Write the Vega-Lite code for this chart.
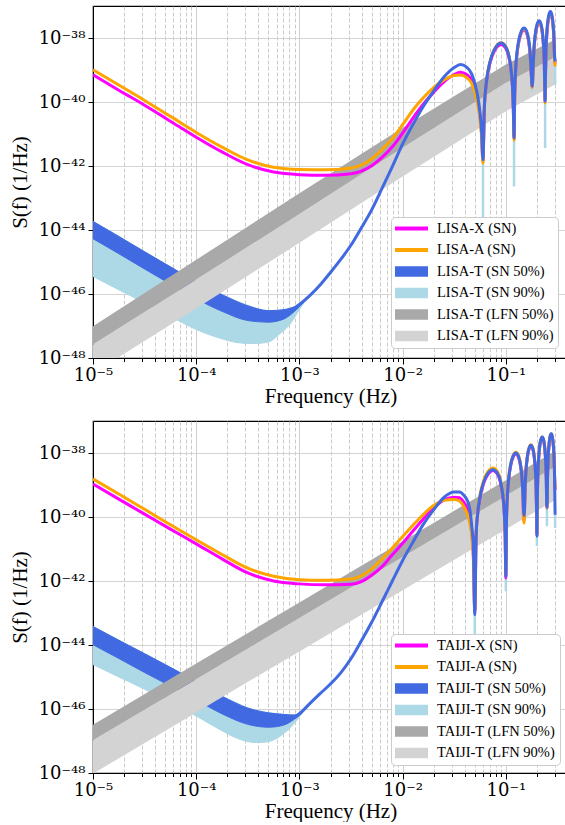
{
"$schema": "https://vega.github.io/schema/vega-lite/v6.json",
"background": "white",
"padding": {"left": 8, "top": 5, "right": 0, "bottom": 0},
"bounds": "flush",
"spacing": 63,
"resolve": {"scale": {"color": "independent", "x": "independent", "y": "independent"}, "legend": {"color": "independent"}},
"config": {
  "font": "Liberation Serif",
  "view": {"stroke": "#000000", "strokeWidth": 1.2},
  "axis": {"labelFont": "DejaVu Serif", "labelFontSize": 18, "labelColor": "#000000", "titleFont": "Liberation Serif", "titleFontSize": 21, "titleFontWeight": "normal", "titleColor": "#000000", "tickColor": "#000000", "domainColor": "#000000", "gridColor": "#d4d4d4", "gridWidth": 1, "labelOverlap": false, "labelFlush": false}
},
"datasets": {
"lisa_X": [{"f":1e-5,"S":7.08e-40},{"f":1.778e-5,"S":2.34e-40},{"f":3.162e-5,"S":7.94e-41},{"f":5.623e-5,"S":2.51e-41},{"f":1e-4,"S":7.94e-42},{"f":1.778e-4,"S":2.75e-42},{"f":3.162e-4,"S":1.10e-42},{"f":5.623e-4,"S":6.46e-43},{"f":1e-3,"S":5.37e-43},{"f":1.778e-3,"S":5.13e-43},{"f":3.162e-3,"S":5.75e-43},{"f":3.981e-3,"S":6.92e-43},{"f":5.012e-3,"S":1.02e-42},{"f":6.310e-3,"S":1.86e-42},{"f":7.943e-3,"S":3.98e-42},{"f":0.01,"S":1.07e-41},{"f":0.01259,"S":3.16e-41},{"f":0.01585,"S":8.51e-41},{"f":0.01995,"S":2.00e-40},{"f":0.02512,"S":4.27e-40},{"f":0.03162,"S":7.24e-40},{"f":0.03631,"S":8.51e-40},{"f":0.04169,"S":7.24e-40},{"f":0.04677,"S":4.68e-40},{"f":0.05248,"S":1.35e-40},{"f":0.05623,"S":3.55e-41},{"f":0.05821,"S":1.0e-41},{"f":0.06,"S":1.41e-42},
{"f":0.0618,"S":5.62e-41},{"f":0.0642,"S":3.02e-40},{"f":0.0678,"S":1.0e-39},{"f":0.0732,"S":2.57e-39},{"f":0.081,"S":5.01e-39},{"f":0.09,"S":6.31e-39},{"f":0.099,"S":5.01e-39},{"f":0.1068,"S":2.57e-39},{"f":0.1122,"S":1.0e-39},{"f":0.1158,"S":3.02e-40},{"f":0.1182,"S":5.62e-41},{"f":0.12,"S":7.08e-42},
{"f":0.1218,"S":1.58e-40},{"f":0.1242,"S":8.51e-40},{"f":0.1278,"S":2.82e-39},{"f":0.1332,"S":7.24e-39},{"f":0.141,"S":1.41e-38},{"f":0.15,"S":1.78e-38},{"f":0.159,"S":1.41e-38},{"f":0.1668,"S":7.24e-39},{"f":0.1722,"S":2.82e-39},{"f":0.1758,"S":8.51e-40},{"f":0.18,"S":2.95e-40},
{"f":0.1842,"S":1.45e-39},{"f":0.1878,"S":4.79e-39},{"f":0.1932,"S":1.23e-38},{"f":0.201,"S":2.40e-38},{"f":0.21,"S":3.02e-38},{"f":0.219,"S":2.40e-38},{"f":0.2268,"S":1.23e-38},{"f":0.2322,"S":4.79e-39},{"f":0.2358,"S":1.45e-39},{"f":0.2382,"S":2.69e-40},{"f":0.24,"S":1.0e-40},
{"f":0.2418,"S":5.01e-40},{"f":0.2442,"S":2.69e-39},{"f":0.2478,"S":8.91e-39},{"f":0.2532,"S":2.29e-38},{"f":0.261,"S":4.47e-38},{"f":0.27,"S":5.62e-38},{"f":0.279,"S":4.47e-38},{"f":0.2868,"S":2.29e-38},{"f":0.2922,"S":8.91e-39},{"f":0.2958,"S":2.69e-39},{"f":0.30,"S":1.58e-39}],
"lisa_A": [{"f":1e-5,"S":1.02e-39},{"f":1.778e-5,"S":3.39e-40},{"f":3.162e-5,"S":1.12e-40},{"f":5.623e-5,"S":3.55e-41},{"f":1e-4,"S":1.12e-41},{"f":1.778e-4,"S":3.89e-42},{"f":3.162e-4,"S":1.55e-42},{"f":5.623e-4,"S":9.12e-43},{"f":1e-3,"S":7.76e-43},{"f":1.778e-3,"S":7.59e-43},{"f":3.162e-3,"S":8.71e-43},{"f":3.981e-3,"S":1.07e-42},{"f":5.012e-3,"S":1.66e-42},{"f":6.310e-3,"S":3.24e-42},{"f":7.943e-3,"S":7.24e-42},{"f":0.01,"S":1.95e-41},{"f":0.01259,"S":5.62e-41},{"f":0.01585,"S":1.35e-40},{"f":0.01995,"S":2.82e-40},{"f":0.02512,"S":4.90e-40},{"f":0.03162,"S":6.76e-40},{"f":0.03631,"S":6.92e-40},{"f":0.04169,"S":5.75e-40},{"f":0.04677,"S":3.72e-40},{"f":0.05248,"S":1.10e-40},{"f":0.05623,"S":2.82e-41},{"f":0.05821,"S":7.94e-42},{"f":0.06,"S":1.23e-42},
{"f":0.0618,"S":6.31e-41},{"f":0.0642,"S":3.39e-40},{"f":0.0678,"S":1.12e-39},{"f":0.0732,"S":2.88e-39},{"f":0.081,"S":5.62e-39},{"f":0.09,"S":7.08e-39},{"f":0.099,"S":5.62e-39},{"f":0.1068,"S":2.88e-39},{"f":0.1122,"S":1.12e-39},{"f":0.1158,"S":3.39e-40},{"f":0.1182,"S":6.31e-41},{"f":0.12,"S":6.31e-42},
{"f":0.1218,"S":1.70e-40},{"f":0.1242,"S":9.12e-40},{"f":0.1278,"S":3.02e-39},{"f":0.1332,"S":7.76e-39},{"f":0.141,"S":1.51e-38},{"f":0.15,"S":1.91e-38},{"f":0.159,"S":1.51e-38},{"f":0.1668,"S":7.76e-39},{"f":0.1722,"S":3.02e-39},{"f":0.1758,"S":9.12e-40},{"f":0.18,"S":2.82e-40},
{"f":0.1842,"S":1.51e-39},{"f":0.1878,"S":5.01e-39},{"f":0.1932,"S":1.29e-38},{"f":0.201,"S":2.51e-38},{"f":0.21,"S":3.16e-38},{"f":0.219,"S":2.51e-38},{"f":0.2268,"S":1.29e-38},{"f":0.2322,"S":5.01e-39},{"f":0.2358,"S":1.51e-39},{"f":0.2382,"S":2.82e-40},{"f":0.24,"S":9.33e-41},
{"f":0.2418,"S":5.37e-40},{"f":0.2442,"S":2.88e-39},{"f":0.2478,"S":9.55e-39},{"f":0.2532,"S":2.45e-38},{"f":0.261,"S":4.79e-38},{"f":0.27,"S":6.03e-38},{"f":0.279,"S":4.79e-38},{"f":0.2868,"S":2.45e-38},{"f":0.2922,"S":9.55e-39},{"f":0.2958,"S":2.88e-39},{"f":0.30,"S":1.29e-39}],
"lisa_T": [{"f":8.913e-4,"S":3.55e-47},{"f":1e-3,"S":4.68e-47},{"f":1.259e-3,"S":8.91e-47},{"f":1.585e-3,"S":1.91e-46},{"f":1.995e-3,"S":4.68e-46},{"f":2.512e-3,"S":1.20e-45},{"f":3.162e-3,"S":3.39e-45},{"f":3.981e-3,"S":1.17e-44},{"f":5.012e-3,"S":4.27e-44},{"f":6.310e-3,"S":2.00e-43},{"f":7.943e-3,"S":9.55e-43},{"f":0.01,"S":4.90e-42},{"f":0.01259,"S":2.00e-41},{"f":0.01585,"S":7.24e-41},{"f":0.01995,"S":2.19e-40},{"f":0.02512,"S":6.03e-40},{"f":0.03162,"S":1.20e-39},{"f":0.03631,"S":1.48e-39},{"f":0.04169,"S":1.23e-39},{"f":0.04677,"S":7.41e-40},{"f":0.05248,"S":2.00e-40},{"f":0.05623,"S":4.47e-41},{"f":0.05821,"S":1.26e-41},{"f":0.06,"S":1.58e-42},
{"f":0.0618,"S":6.17e-41},{"f":0.0642,"S":3.31e-40},{"f":0.0678,"S":1.10e-39},{"f":0.0732,"S":2.82e-39},{"f":0.081,"S":5.50e-39},{"f":0.09,"S":6.92e-39},{"f":0.099,"S":5.50e-39},{"f":0.1068,"S":2.82e-39},{"f":0.1122,"S":1.10e-39},{"f":0.1158,"S":3.31e-40},{"f":0.1182,"S":6.17e-41},{"f":0.12,"S":7.50e-42},
{"f":0.1218,"S":1.82e-40},{"f":0.1242,"S":9.77e-40},{"f":0.1278,"S":3.24e-39},{"f":0.1332,"S":8.32e-39},{"f":0.141,"S":1.62e-38},{"f":0.15,"S":2.04e-38},{"f":0.159,"S":1.62e-38},{"f":0.1668,"S":8.32e-39},{"f":0.1722,"S":3.24e-39},{"f":0.1758,"S":9.77e-40},{"f":0.18,"S":3.09e-40},
{"f":0.1842,"S":1.66e-39},{"f":0.1878,"S":5.50e-39},{"f":0.1932,"S":1.41e-38},{"f":0.201,"S":2.75e-38},{"f":0.21,"S":3.47e-38},{"f":0.219,"S":2.75e-38},{"f":0.2268,"S":1.41e-38},{"f":0.2322,"S":5.50e-39},{"f":0.2358,"S":1.66e-39},{"f":0.2382,"S":3.09e-40},{"f":0.24,"S":1.05e-40},
{"f":0.2418,"S":6.03e-40},{"f":0.2442,"S":3.24e-39},{"f":0.2478,"S":1.07e-38},{"f":0.2532,"S":2.75e-38},{"f":0.261,"S":5.37e-38},{"f":0.27,"S":6.76e-38},{"f":0.279,"S":5.37e-38},{"f":0.2868,"S":2.75e-38},{"f":0.2922,"S":1.07e-38},{"f":0.2958,"S":3.24e-39},{"f":0.30,"S":1.86e-39}],
"lisa_SN50": [{"f":1e-5,"lo":5.37e-45,"hi":1.86e-44},{"f":1.778e-5,"lo":1.82e-45,"hi":6.31e-45},{"f":3.162e-5,"lo":6.03e-46,"hi":2.09e-45},{"f":5.623e-5,"lo":2.04e-46,"hi":7.08e-46},{"f":1e-4,"lo":7.08e-47,"hi":2.40e-46},{"f":1.778e-4,"lo":2.88e-47,"hi":9.55e-47},{"f":3.162e-4,"lo":1.48e-47,"hi":4.27e-47},{"f":5.012e-4,"lo":1.32e-47,"hi":3.02e-47},{"f":7.079e-4,"lo":1.66e-47,"hi":3.24e-47},{"f":8.913e-4,"lo":2.82e-47,"hi":3.98e-47},{"f":1e-3,"lo":3.98e-47,"hi":4.68e-47},{"f":1.122e-3,"lo":6.03e-47,"hi":6.31e-47}],
"lisa_SN90": [{"f":1e-5,"lo":3.55e-46,"hi":1.86e-44},{"f":1.778e-5,"lo":1.35e-46,"hi":6.31e-45},{"f":3.162e-5,"lo":5.25e-47,"hi":2.09e-45},{"f":5.623e-5,"lo":2.00e-47,"hi":7.08e-46},{"f":1e-4,"lo":7.76e-48,"hi":2.40e-46},{"f":1.778e-4,"lo":3.98e-48,"hi":9.55e-47},{"f":2.512e-4,"lo":3.02e-48,"hi":5.89e-47},{"f":3.548e-4,"lo":2.82e-48,"hi":3.89e-47},{"f":5.012e-4,"lo":3.16e-48,"hi":3.02e-47},{"f":6.310e-4,"lo":5.37e-48,"hi":3.09e-47},{"f":7.943e-4,"lo":1.05e-47,"hi":3.55e-47},{"f":1e-3,"lo":3.24e-47,"hi":4.68e-47},{"f":1.122e-3,"lo":5.75e-47,"hi":6.31e-47}],
"lisa_LFN50": [{"f":1e-5,"lo":2.63e-48,"hi":9.77e-48},{"f":1e-4,"lo":2.82e-46,"hi":1.17e-45},{"f":1e-3,"lo":3.16e-44,"hi":1.41e-43},{"f":0.01,"lo":3.72e-42,"hi":1.58e-41},{"f":0.1,"lo":3.98e-40,"hi":1.48e-39},{"f":0.3,"lo":2.51e-39,"hi":8.91e-39}],
"lisa_LFN90": [{"f":1e-5,"lo":3.31e-49,"hi":2.63e-48},{"f":1e-4,"lo":3.55e-47,"hi":2.82e-46},{"f":1e-3,"lo":3.98e-45,"hi":3.16e-44},{"f":0.01,"lo":4.68e-43,"hi":3.72e-42},{"f":0.1,"lo":5.13e-41,"hi":3.98e-40},{"f":0.3,"lo":3.55e-40,"hi":2.51e-39}],
"lisa_spikes": [{"f":0.06,"lo":1.86e-44,"hi":1.58e-42},{"f":0.12,"lo":2.29e-43,"hi":7.50e-42},{"f":0.18,"lo":2.00e-40,"hi":3.09e-40},{"f":0.24,"lo":3.63e-42,"hi":1.05e-40},{"f":0.30,"lo":3.47e-40,"hi":1.86e-39}],
"taiji_X": [{"f":1e-5,"S":1.07e-39},{"f":1.778e-5,"S":3.63e-40},{"f":3.162e-5,"S":1.23e-40},{"f":5.623e-5,"S":4.17e-41},{"f":1e-4,"S":1.45e-41},{"f":1.778e-4,"S":4.90e-42},{"f":3.162e-4,"S":1.78e-42},{"f":5.623e-4,"S":1.0e-42},{"f":1e-3,"S":8.13e-43},{"f":1.778e-3,"S":7.59e-43},{"f":3.162e-3,"S":7.94e-43},{"f":3.981e-3,"S":9.55e-43},{"f":5.012e-3,"S":1.51e-42},{"f":6.310e-3,"S":2.82e-42},{"f":7.943e-3,"S":6.61e-42},{"f":0.01,"S":1.51e-41},{"f":0.01259,"S":3.63e-41},{"f":0.01585,"S":8.71e-41},{"f":0.01995,"S":1.91e-40},{"f":0.02512,"S":3.39e-40},{"f":0.03162,"S":4.17e-40},{"f":0.03548,"S":3.98e-40},{"f":0.03981,"S":2.63e-40},{"f":0.04365,"S":1.41e-40},{"f":0.04677,"S":3.16e-41},{"f":0.04842,"S":6.31e-42},{"f":0.05,"S":1.12e-43},
{"f":0.0515,"S":2.51e-41},{"f":0.0535,"S":1.35e-40},{"f":0.0565,"S":4.47e-40},{"f":0.061,"S":1.15e-39},{"f":0.0675,"S":2.24e-39},{"f":0.075,"S":2.82e-39},{"f":0.0825,"S":2.24e-39},{"f":0.089,"S":1.15e-39},{"f":0.0935,"S":4.47e-40},{"f":0.0965,"S":1.35e-40},{"f":0.0985,"S":2.51e-41},{"f":0.10,"S":1.26e-42},
{"f":0.1015,"S":8.32e-41},{"f":0.1035,"S":4.47e-40},{"f":0.1065,"S":1.48e-39},{"f":0.111,"S":3.80e-39},{"f":0.1175,"S":7.41e-39},{"f":0.125,"S":9.33e-39},{"f":0.1325,"S":7.41e-39},{"f":0.139,"S":3.80e-39},{"f":0.1435,"S":1.48e-39},{"f":0.1465,"S":4.47e-40},{"f":0.1485,"S":8.32e-41},{"f":0.15,"S":7.94e-41},
{"f":0.1515,"S":1.48e-40},{"f":0.1535,"S":7.94e-40},{"f":0.1565,"S":2.63e-39},{"f":0.161,"S":6.76e-39},{"f":0.1675,"S":1.32e-38},{"f":0.175,"S":1.66e-38},{"f":0.1825,"S":1.32e-38},{"f":0.189,"S":6.76e-39},{"f":0.1935,"S":2.63e-39},{"f":0.1965,"S":7.94e-40},{"f":0.1985,"S":1.48e-40},{"f":0.20,"S":2.63e-41},
{"f":0.2015,"S":2.69e-40},{"f":0.2035,"S":1.45e-39},{"f":0.2065,"S":4.79e-39},{"f":0.211,"S":1.23e-38},{"f":0.2175,"S":2.40e-38},{"f":0.225,"S":3.02e-38},{"f":0.2325,"S":2.40e-38},{"f":0.239,"S":1.23e-38},{"f":0.2435,"S":4.79e-39},{"f":0.2465,"S":1.45e-39},{"f":0.2485,"S":2.69e-40},{"f":0.25,"S":1.91e-40},
{"f":0.2515,"S":3.39e-40},{"f":0.2535,"S":1.82e-39},{"f":0.2565,"S":6.03e-39},{"f":0.261,"S":1.55e-38},{"f":0.2675,"S":3.02e-38},{"f":0.275,"S":3.80e-38},{"f":0.2825,"S":3.02e-38},{"f":0.289,"S":1.55e-38},{"f":0.2935,"S":6.03e-39},{"f":0.2965,"S":1.82e-39},{"f":0.30,"S":7.08e-40}],
"taiji_A": [{"f":1e-5,"S":1.55e-39},{"f":1.778e-5,"S":5.25e-40},{"f":3.162e-5,"S":1.74e-40},{"f":5.623e-5,"S":5.75e-41},{"f":1e-4,"S":1.95e-41},{"f":1.778e-4,"S":6.76e-42},{"f":3.162e-4,"S":2.51e-42},{"f":5.623e-4,"S":1.41e-42},{"f":1e-3,"S":1.10e-42},{"f":1.778e-3,"S":1.05e-42},{"f":3.162e-3,"S":1.15e-42},{"f":3.981e-3,"S":1.45e-42},{"f":5.012e-3,"S":2.40e-42},{"f":6.310e-3,"S":4.90e-42},{"f":7.943e-3,"S":1.07e-41},{"f":0.01,"S":2.45e-41},{"f":0.01259,"S":5.50e-41},{"f":0.01585,"S":1.20e-40},{"f":0.01995,"S":2.29e-40},{"f":0.02512,"S":3.31e-40},{"f":0.03162,"S":3.55e-40},{"f":0.03548,"S":3.16e-40},{"f":0.03981,"S":1.91e-40},{"f":0.04365,"S":8.91e-41},{"f":0.04677,"S":2.51e-41},{"f":0.04842,"S":5.01e-42},{"f":0.05,"S":1.26e-43},
{"f":0.0515,"S":3.02e-41},{"f":0.0535,"S":1.62e-40},{"f":0.0565,"S":5.37e-40},{"f":0.061,"S":1.38e-39},{"f":0.0675,"S":2.69e-39},{"f":0.075,"S":3.39e-39},{"f":0.0825,"S":2.69e-39},{"f":0.089,"S":1.38e-39},{"f":0.0935,"S":5.37e-40},{"f":0.0965,"S":1.62e-40},{"f":0.0985,"S":3.02e-41},{"f":0.10,"S":1.58e-42},
{"f":0.1015,"S":9.33e-41},{"f":0.1035,"S":5.01e-40},{"f":0.1065,"S":1.66e-39},{"f":0.111,"S":4.27e-39},{"f":0.1175,"S":8.32e-39},{"f":0.125,"S":1.05e-38},{"f":0.1325,"S":8.32e-39},{"f":0.139,"S":4.27e-39},{"f":0.1435,"S":1.66e-39},{"f":0.1465,"S":5.01e-40},{"f":0.1485,"S":9.33e-41},{"f":0.15,"S":6.46e-41},
{"f":0.1515,"S":1.62e-40},{"f":0.1535,"S":8.71e-40},{"f":0.1565,"S":2.88e-39},{"f":0.161,"S":7.41e-39},{"f":0.1675,"S":1.45e-38},{"f":0.175,"S":1.82e-38},{"f":0.1825,"S":1.45e-38},{"f":0.189,"S":7.41e-39},{"f":0.1935,"S":2.88e-39},{"f":0.1965,"S":8.71e-40},{"f":0.1985,"S":1.62e-40},{"f":0.20,"S":2.82e-41},
{"f":0.2015,"S":2.82e-40},{"f":0.2035,"S":1.51e-39},{"f":0.2065,"S":5.01e-39},{"f":0.211,"S":1.29e-38},{"f":0.2175,"S":2.51e-38},{"f":0.225,"S":3.16e-38},{"f":0.2325,"S":2.51e-38},{"f":0.239,"S":1.29e-38},{"f":0.2435,"S":5.01e-39},{"f":0.2465,"S":1.51e-39},{"f":0.2485,"S":2.82e-40},{"f":0.25,"S":1.91e-40},
{"f":0.2515,"S":3.55e-40},{"f":0.2535,"S":1.91e-39},{"f":0.2565,"S":6.31e-39},{"f":0.261,"S":1.62e-38},{"f":0.2675,"S":3.16e-38},{"f":0.275,"S":3.98e-38},{"f":0.2825,"S":3.16e-38},{"f":0.289,"S":1.62e-38},{"f":0.2935,"S":6.31e-39},{"f":0.2965,"S":1.91e-39},{"f":0.30,"S":8.13e-40}],
"taiji_T": [{"f":8.913e-4,"S":5.5e-47},{"f":1e-3,"S":7.08e-47},{"f":1.259e-3,"S":1.48e-46},{"f":1.585e-3,"S":3.02e-46},{"f":1.995e-3,"S":6.03e-46},{"f":2.512e-3,"S":1.35e-45},{"f":3.162e-3,"S":3.80e-45},{"f":3.981e-3,"S":1.35e-44},{"f":5.012e-3,"S":5.13e-44},{"f":6.310e-3,"S":2.24e-43},{"f":7.943e-3,"S":1.0e-42},{"f":0.01,"S":4.37e-42},{"f":0.01259,"S":1.66e-41},{"f":0.01585,"S":5.89e-41},{"f":0.01995,"S":1.66e-40},{"f":0.02512,"S":4.07e-40},{"f":0.03162,"S":6.03e-40},{"f":0.03548,"S":6.03e-40},{"f":0.03981,"S":4.47e-40},{"f":0.04266,"S":3.09e-40},{"f":0.04467,"S":1.78e-40},{"f":0.04677,"S":5.01e-41},{"f":0.04842,"S":1.26e-41},{"f":0.05,"S":8.91e-44},
{"f":0.0515,"S":2.69e-41},{"f":0.0535,"S":1.45e-40},{"f":0.0565,"S":4.79e-40},{"f":0.061,"S":1.23e-39},{"f":0.0675,"S":2.40e-39},{"f":0.075,"S":3.02e-39},{"f":0.0825,"S":2.40e-39},{"f":0.089,"S":1.23e-39},{"f":0.0935,"S":4.79e-40},{"f":0.0965,"S":1.45e-40},{"f":0.0985,"S":2.69e-41},{"f":0.10,"S":1.41e-42},
{"f":0.1015,"S":8.91e-41},{"f":0.1035,"S":4.79e-40},{"f":0.1065,"S":1.58e-39},{"f":0.111,"S":4.07e-39},{"f":0.1175,"S":7.94e-39},{"f":0.125,"S":1.0e-38},{"f":0.1325,"S":7.94e-39},{"f":0.139,"S":4.07e-39},{"f":0.1435,"S":1.58e-39},{"f":0.1465,"S":4.79e-40},{"f":0.15,"S":1.12e-40},
{"f":0.1515,"S":1.55e-40},{"f":0.1535,"S":8.32e-40},{"f":0.1565,"S":2.75e-39},{"f":0.161,"S":7.08e-39},{"f":0.1675,"S":1.38e-38},{"f":0.175,"S":1.74e-38},{"f":0.1825,"S":1.38e-38},{"f":0.189,"S":7.08e-39},{"f":0.1935,"S":2.75e-39},{"f":0.1965,"S":8.32e-40},{"f":0.1985,"S":1.55e-40},{"f":0.20,"S":2.51e-41},
{"f":0.2015,"S":2.82e-40},{"f":0.2035,"S":1.51e-39},{"f":0.2065,"S":5.01e-39},{"f":0.211,"S":1.29e-38},{"f":0.2175,"S":2.51e-38},{"f":0.225,"S":3.16e-38},{"f":0.2325,"S":2.51e-38},{"f":0.239,"S":1.29e-38},{"f":0.2435,"S":5.01e-39},{"f":0.2465,"S":1.51e-39},{"f":0.2485,"S":2.82e-40},{"f":0.25,"S":2.00e-40},
{"f":0.2515,"S":3.55e-40},{"f":0.2535,"S":1.91e-39},{"f":0.2565,"S":6.31e-39},{"f":0.261,"S":1.62e-38},{"f":0.2675,"S":3.16e-38},{"f":0.275,"S":3.98e-38},{"f":0.2825,"S":3.16e-38},{"f":0.289,"S":1.62e-38},{"f":0.2935,"S":6.31e-39},{"f":0.2965,"S":1.91e-39},{"f":0.2985,"S":3.55e-40},{"f":0.30,"S":1.17e-40}],
"taiji_SN50": [{"f":1e-5,"lo":1.02e-44,"hi":3.80e-44},{"f":1.778e-5,"lo":3.80e-45,"hi":1.41e-44},{"f":3.162e-5,"lo":1.38e-45,"hi":5.37e-45},{"f":5.623e-5,"lo":5.25e-46,"hi":2.00e-45},{"f":1e-4,"lo":1.91e-46,"hi":7.24e-46},{"f":1.778e-4,"lo":7.08e-47,"hi":2.51e-46},{"f":3.162e-4,"lo":3.31e-47,"hi":1.07e-46},{"f":5.012e-4,"lo":2.69e-47,"hi":7.59e-47},{"f":7.079e-4,"lo":3.16e-47,"hi":6.76e-47},{"f":8.913e-4,"lo":4.79e-47,"hi":6.46e-47},{"f":1e-3,"lo":6.31e-47,"hi":7.08e-47},{"f":1.122e-3,"lo":9.55e-47,"hi":1.0e-46}],
"taiji_SN90": [{"f":1e-5,"lo":2.45e-45,"hi":3.80e-44},{"f":1.778e-5,"lo":1.0e-45,"hi":1.41e-44},{"f":3.162e-5,"lo":4.17e-46,"hi":5.37e-45},{"f":5.623e-5,"lo":1.58e-46,"hi":2.00e-45},{"f":1e-4,"lo":6.03e-47,"hi":7.24e-46},{"f":1.778e-4,"lo":2.09e-47,"hi":2.51e-46},{"f":2.512e-4,"lo":1.20e-47,"hi":1.51e-46},{"f":3.162e-4,"lo":9.55e-48,"hi":1.07e-46},{"f":3.981e-4,"lo":8.91e-48,"hi":8.91e-47},{"f":5.012e-4,"lo":9.55e-48,"hi":7.59e-47},{"f":6.310e-4,"lo":1.32e-47,"hi":7.08e-47},{"f":7.943e-4,"lo":2.40e-47,"hi":6.61e-47},{"f":1e-3,"lo":5.62e-47,"hi":7.08e-47},{"f":1.122e-3,"lo":9.33e-47,"hi":1.0e-46}],
"taiji_LFN50": [{"f":1e-5,"lo":1.05e-47,"hi":3.24e-47},{"f":1e-4,"lo":8.51e-46,"hi":2.63e-45},{"f":1e-3,"lo":6.92e-44,"hi":2.14e-43},{"f":0.01,"lo":5.62e-42,"hi":1.74e-41},{"f":0.1,"lo":4.57e-40,"hi":1.41e-39},{"f":0.3,"lo":3.72e-39,"hi":1.15e-38}],
"taiji_LFN90": [{"f":1e-5,"lo":9.55e-49,"hi":1.05e-47},{"f":1e-4,"lo":7.76e-47,"hi":8.51e-46},{"f":1e-3,"lo":6.31e-45,"hi":6.92e-44},{"f":0.01,"lo":5.13e-43,"hi":5.62e-42},{"f":0.1,"lo":4.17e-41,"hi":4.57e-40},{"f":0.3,"lo":3.39e-40,"hi":3.72e-39}],
"taiji_spikes": [{"f":0.05,"lo":2.09e-44,"hi":8.91e-44},{"f":0.10,"lo":4.79e-43,"hi":1.41e-42},{"f":0.15,"lo":7.08e-41,"hi":1.12e-40},{"f":0.20,"lo":1.23e-41,"hi":2.51e-41},{"f":0.25,"lo":5.13e-41,"hi":2.00e-40},{"f":0.30,"lo":4.57e-41,"hi":1.17e-40}]
},
"vconcat": [
{
 "width": 475, "height": 352,
 "encoding": {"x": {"field": "f", "type": "quantitative", "scale": {"type": "log", "domain": [0.00001, 0.4], "nice": false},
   "axis": {"title": "Frequency (Hz)", "values": [0.00001,0.00002,0.00003,0.00004,0.00005,0.00006,0.00007,0.00008,0.00009,0.0001,0.0002,0.0003,0.0004,0.0005,0.0006,0.0007,0.0008,0.0009,0.001,0.002,0.003,0.004,0.005,0.006,0.007,0.008,0.009,0.01,0.02,0.03,0.04,0.05,0.06,0.07,0.08,0.09,0.1,0.2,0.3],
     "labelExpr": "datum.value === 0.00001 ? '10⁻⁵' : datum.value === 0.0001 ? '10⁻⁴' : datum.value === 0.001 ? '10⁻³' : datum.value === 0.01 ? '10⁻²' : datum.value === 0.1 ? '10⁻¹' : ''",
     "labelPadding": 2, "titlePadding": 1,
     "tickSize": {"condition": {"test": "indexof([0.00001,0.0001,0.001,0.01,0.1], datum.value) >= 0", "value": 6}, "value": 3.5},
     "gridDash": {"condition": {"test": "indexof([0.00001,0.0001,0.001,0.01,0.1], datum.value) >= 0", "value": []}, "value": [4, 2]},
     "gridColor": {"condition": {"test": "indexof([0.00001,0.0001,0.001,0.01,0.1], datum.value) >= 0", "value": "#d0d0d0"}, "value": "#bcbcbc"},
     "gridWidth": {"condition": {"test": "indexof([0.00001,0.0001,0.001,0.01,0.1], datum.value) >= 0", "value": 1}, "value": 0.8}}}},
 "layer": [
  {"data": {"name": "lisa_SN90"}, "mark": {"type": "area", "clip": true, "interpolate": "monotone", "opacity": 1, "stroke": "#add8e6", "strokeWidth": 1},
   "encoding": {"y": {"field": "lo", "type": "quantitative", "scale": {"type": "log", "domain": [1e-48, 1e-37], "nice": false},
      "axis": {"title": "S(f) (1/Hz)", "values": [1e-48, 1e-46, 1e-44, 1e-42, 1e-40, 1e-38], "labelExpr": "datum.value < 3e-48 ? '10⁻⁴⁸' : datum.value < 3e-46 ? '10⁻⁴⁶' : datum.value < 3e-44 ? '10⁻⁴⁴' : datum.value < 3e-42 ? '10⁻⁴²' : datum.value < 3e-40 ? '10⁻⁴⁰' : '10⁻³⁸'", "tickSize": 5, "labelPadding": 3, "titlePadding": 8}},
     "y2": {"field": "hi"},
     "color": {"datum": "LISA-T (SN 90%)", "type": "nominal",
       "scale": {"domain": ["LISA-X (SN)", "LISA-A (SN)", "LISA-T (SN 50%)", "LISA-T (SN 90%)", "LISA-T (LFN 50%)", "LISA-T (LFN 90%)"], "range": ["#ff00ff", "#ffa500", "#4169e1", "#add8e6", "#a9a9a9", "#d3d3d3"]},
       "legend": {"title": null, "orient": "bottom-right", "offset": 10, "labelFont": "Liberation Serif", "labelFontSize": 14.5, "labelColor": "#000000", "symbolSize": 1089, "symbolType": "M-1,-0.32H1V0.32H-1Z", "symbolStrokeWidth": 0, "symbolOpacity": 1, "clipHeight": 15, "rowPadding": 5.5, "padding": 4, "labelOffset": 9, "fillColor": "#ffffff", "strokeColor": "#cccccc", "cornerRadius": 4,
         "encoding": {"symbols": {"shape": {"condition": {"test": "indexof(datum.label, '(SN)') > 0", "value": "M-1,-0.12H1V0.12H-1Z"}, "value": "M-1,-0.32H1V0.32H-1Z"}}}}}}},
  {"data": {"name": "lisa_SN50"}, "mark": {"type": "area", "clip": true, "interpolate": "monotone", "opacity": 1, "stroke": "#4169e1", "strokeWidth": 1},
   "encoding": {"y": {"field": "lo", "type": "quantitative"}, "y2": {"field": "hi"}, "color": {"datum": "LISA-T (SN 50%)", "type": "nominal"}}},
  {"data": {"name": "lisa_LFN90"}, "mark": {"type": "area", "clip": true, "opacity": 1},
   "encoding": {"y": {"field": "lo", "type": "quantitative"}, "y2": {"field": "hi"}, "color": {"datum": "LISA-T (LFN 90%)", "type": "nominal"}}},
  {"data": {"name": "lisa_LFN50"}, "mark": {"type": "area", "clip": true, "opacity": 1},
   "encoding": {"y": {"field": "lo", "type": "quantitative"}, "y2": {"field": "hi"}, "color": {"datum": "LISA-T (LFN 50%)", "type": "nominal"}}},
  {"data": {"name": "lisa_spikes"}, "mark": {"type": "rule", "clip": true, "strokeWidth": 2.5},
   "encoding": {"y": {"field": "lo", "type": "quantitative"}, "y2": {"field": "hi"}, "color": {"datum": "LISA-T (SN 90%)", "type": "nominal"}}},
  {"data": {"name": "lisa_X"}, "mark": {"type": "line", "clip": true, "interpolate": "monotone", "strokeWidth": 3},
   "encoding": {"y": {"field": "S", "type": "quantitative"}, "color": {"datum": "LISA-X (SN)", "type": "nominal"}}},
  {"data": {"name": "lisa_A"}, "mark": {"type": "line", "clip": true, "interpolate": "monotone", "strokeWidth": 3},
   "encoding": {"y": {"field": "S", "type": "quantitative"}, "color": {"datum": "LISA-A (SN)", "type": "nominal"}}},
  {"data": {"name": "lisa_T"}, "mark": {"type": "line", "clip": true, "interpolate": "monotone", "strokeWidth": 3},
   "encoding": {"y": {"field": "S", "type": "quantitative"}, "color": {"datum": "LISA-T (SN 50%)", "type": "nominal"}}}
 ]
},
{
 "width": 475, "height": 352,
 "encoding": {"x": {"field": "f", "type": "quantitative", "scale": {"type": "log", "domain": [0.00001, 0.4], "nice": false},
   "axis": {"title": "Frequency (Hz)", "values": [0.00001,0.00002,0.00003,0.00004,0.00005,0.00006,0.00007,0.00008,0.00009,0.0001,0.0002,0.0003,0.0004,0.0005,0.0006,0.0007,0.0008,0.0009,0.001,0.002,0.003,0.004,0.005,0.006,0.007,0.008,0.009,0.01,0.02,0.03,0.04,0.05,0.06,0.07,0.08,0.09,0.1,0.2,0.3],
     "labelExpr": "datum.value === 0.00001 ? '10⁻⁵' : datum.value === 0.0001 ? '10⁻⁴' : datum.value === 0.001 ? '10⁻³' : datum.value === 0.01 ? '10⁻²' : datum.value === 0.1 ? '10⁻¹' : ''",
     "labelPadding": 2, "titlePadding": 1,
     "tickSize": {"condition": {"test": "indexof([0.00001,0.0001,0.001,0.01,0.1], datum.value) >= 0", "value": 6}, "value": 3.5},
     "gridDash": {"condition": {"test": "indexof([0.00001,0.0001,0.001,0.01,0.1], datum.value) >= 0", "value": []}, "value": [4, 2]},
     "gridColor": {"condition": {"test": "indexof([0.00001,0.0001,0.001,0.01,0.1], datum.value) >= 0", "value": "#d0d0d0"}, "value": "#bcbcbc"},
     "gridWidth": {"condition": {"test": "indexof([0.00001,0.0001,0.001,0.01,0.1], datum.value) >= 0", "value": 1}, "value": 0.8}}}},
 "layer": [
  {"data": {"name": "taiji_SN90"}, "mark": {"type": "area", "clip": true, "interpolate": "monotone", "opacity": 1, "stroke": "#add8e6", "strokeWidth": 1},
   "encoding": {"y": {"field": "lo", "type": "quantitative", "scale": {"type": "log", "domain": [1e-48, 1e-37], "nice": false},
      "axis": {"title": "S(f) (1/Hz)", "values": [1e-48, 1e-46, 1e-44, 1e-42, 1e-40, 1e-38], "labelExpr": "datum.value < 3e-48 ? '10⁻⁴⁸' : datum.value < 3e-46 ? '10⁻⁴⁶' : datum.value < 3e-44 ? '10⁻⁴⁴' : datum.value < 3e-42 ? '10⁻⁴²' : datum.value < 3e-40 ? '10⁻⁴⁰' : '10⁻³⁸'", "tickSize": 5, "labelPadding": 3, "titlePadding": 8}},
     "y2": {"field": "hi"},
     "color": {"datum": "TAIJI-T (SN 90%)", "type": "nominal",
       "scale": {"domain": ["TAIJI-X (SN)", "TAIJI-A (SN)", "TAIJI-T (SN 50%)", "TAIJI-T (SN 90%)", "TAIJI-T (LFN 50%)", "TAIJI-T (LFN 90%)"], "range": ["#ff00ff", "#ffa500", "#4169e1", "#add8e6", "#a9a9a9", "#d3d3d3"]},
       "legend": {"title": null, "orient": "bottom-right", "offset": 8, "labelFont": "Liberation Serif", "labelFontSize": 14.5, "labelColor": "#000000", "symbolSize": 1089, "symbolType": "M-1,-0.32H1V0.32H-1Z", "symbolStrokeWidth": 0, "symbolOpacity": 1, "clipHeight": 15, "rowPadding": 5.5, "padding": 4, "labelOffset": 9, "fillColor": "#ffffff", "strokeColor": "#cccccc", "cornerRadius": 4,
         "encoding": {"symbols": {"shape": {"condition": {"test": "indexof(datum.label, '(SN)') > 0", "value": "M-1,-0.12H1V0.12H-1Z"}, "value": "M-1,-0.32H1V0.32H-1Z"}}}}}}},
  {"data": {"name": "taiji_SN50"}, "mark": {"type": "area", "clip": true, "interpolate": "monotone", "opacity": 1, "stroke": "#4169e1", "strokeWidth": 1},
   "encoding": {"y": {"field": "lo", "type": "quantitative"}, "y2": {"field": "hi"}, "color": {"datum": "TAIJI-T (SN 50%)", "type": "nominal"}}},
  {"data": {"name": "taiji_LFN90"}, "mark": {"type": "area", "clip": true, "opacity": 1},
   "encoding": {"y": {"field": "lo", "type": "quantitative"}, "y2": {"field": "hi"}, "color": {"datum": "TAIJI-T (LFN 90%)", "type": "nominal"}}},
  {"data": {"name": "taiji_LFN50"}, "mark": {"type": "area", "clip": true, "opacity": 1},
   "encoding": {"y": {"field": "lo", "type": "quantitative"}, "y2": {"field": "hi"}, "color": {"datum": "TAIJI-T (LFN 50%)", "type": "nominal"}}},
  {"data": {"name": "taiji_spikes"}, "mark": {"type": "rule", "clip": true, "strokeWidth": 2.5},
   "encoding": {"y": {"field": "lo", "type": "quantitative"}, "y2": {"field": "hi"}, "color": {"datum": "TAIJI-T (SN 90%)", "type": "nominal"}}},
  {"data": {"name": "taiji_X"}, "mark": {"type": "line", "clip": true, "interpolate": "monotone", "strokeWidth": 3},
   "encoding": {"y": {"field": "S", "type": "quantitative"}, "color": {"datum": "TAIJI-X (SN)", "type": "nominal"}}},
  {"data": {"name": "taiji_A"}, "mark": {"type": "line", "clip": true, "interpolate": "monotone", "strokeWidth": 3},
   "encoding": {"y": {"field": "S", "type": "quantitative"}, "color": {"datum": "TAIJI-A (SN)", "type": "nominal"}}},
  {"data": {"name": "taiji_T"}, "mark": {"type": "line", "clip": true, "interpolate": "monotone", "strokeWidth": 3},
   "encoding": {"y": {"field": "S", "type": "quantitative"}, "color": {"datum": "TAIJI-T (SN 50%)", "type": "nominal"}}}
 ]
}
]
}
